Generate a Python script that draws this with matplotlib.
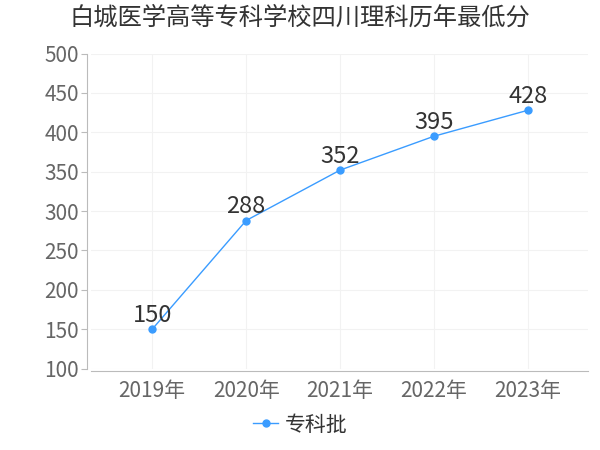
import matplotlib.pyplot as plt

plt.rcParams['font.family'] = ['Noto Sans CJK SC', 'DejaVu Sans']

years = ['2019年', '2020年', '2021年', '2022年', '2023年']
scores = [150, 288, 352, 395, 428]
series_name = '专科批'
title = '白城医学高等专科学校四川理科历年最低分'

fig = plt.figure(figsize=(6, 4.5), dpi=100)
ax = fig.add_axes([0.152, 0.181, 0.828, 0.70])

x = list(range(len(years)))
color = '#3a9cff'
ax.plot(x, scores, '-o', color=color, lw=1, ms=5, label=series_name)
for xi, v in zip(x, scores):
    ax.text(xi, v + 3, str(v), ha='center', va='bottom', fontsize=17, color='#333333')

ax.set_xlim(-0.65, 4.64)
ax.set_ylim(100, 500)
ax.set_yticks(range(100, 501, 50))
ax.set_xticks(x)
ax.set_xticklabels(years)
ax.tick_params(axis='both', labelsize=15, colors='#666666', length=4, color='#bbbbbb')
ax.tick_params(axis='y', pad=2)
ax.tick_params(axis='x', length=0, pad=6)
ax.grid(True, color='#f2f2f2', lw=0.8)
ax.set_axisbelow(True)
for s in ['top', 'right']:
    ax.spines[s].set_visible(False)
ax.spines['left'].set_color('#bbbbbb')
ax.spines['bottom'].set_color('#bbbbbb')
ax.spines['left'].set_position(('outward', 3))
ax.spines['bottom'].set_position(('outward', 2))

fig.suptitle(title, x=0.5, y=0.99, fontsize=17.5, color='#333333')
fig.legend(loc='lower center', bbox_to_anchor=(0.5, -0.01), frameon=False, fontsize=15,
           handlelength=1.2, handletextpad=0.3, labelcolor='#333333')

fig.savefig('out.png', dpi=100)
